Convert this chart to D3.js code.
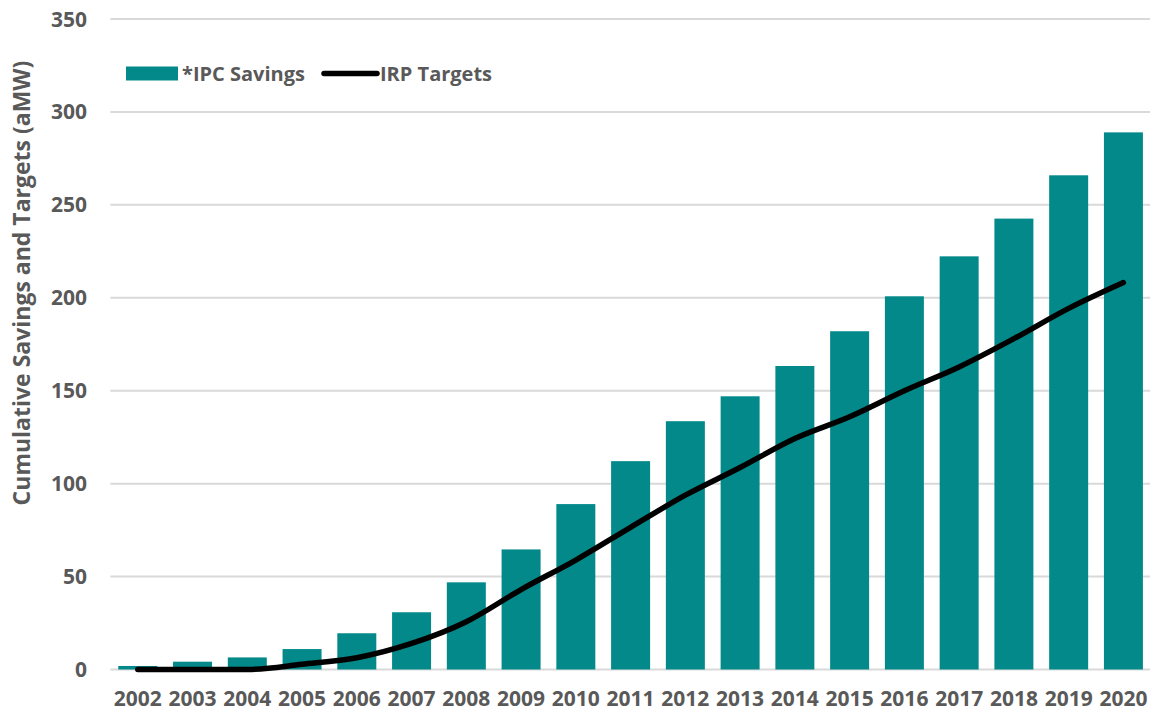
<!DOCTYPE html>
<html>
<head>
<meta charset="utf-8">
<script src="https://cdn.jsdelivr.net/npm/d3@7"></script>
<style>
  body { margin: 0; background: #fff; }
  text { font-family: "Open Sans", sans-serif; font-weight: bold; fill: #595959; }
</style>
</head>
<body>
<div id="chart"></div>
<script>
"use strict";

var years = ["2002", "2003", "2004", "2005", "2006", "2007", "2008", "2009", "2010", "2011",
             "2012", "2013", "2014", "2015", "2016", "2017", "2018", "2019", "2020"];
var ipcSavings = [1.9, 4.2, 6.5, 11, 19.5, 30.8, 46.9, 64.6, 89, 112.1,
                  133.6, 147, 163.3, 182, 200.8, 222.3, 242.6, 265.9, 289];
var irpTargets = [0, 0, 0, 2.8, 6.3, 14, 25.7, 43, 58.9, 76.5,
                  93.8, 108.7, 124.3, 136, 150, 162.8, 178, 194.3, 208.2];
var yTicks = [0, 50, 100, 150, 200, 250, 300, 350];
var seriesNames = ["*IPC Savings", "IRP Targets"];

var width = 1150, height = 712;
var plotLeft = 110.4, plotRight = 1150.8, plotTop = 19, plotBottom = 669.5;
var teal = "#03898A";

var svg = d3.select("#chart")
  .append("svg")
  .attr("width", width)
  .attr("height", height);

var x = d3.scaleBand()
  .domain(years)
  .range([plotLeft, plotRight])
  .paddingInner(0.288)
  .paddingOuter(0.144);

var y = d3.scaleLinear()
  .domain([0, 350])
  .range([plotBottom, plotTop]);

// gridlines
svg.append("g")
  .selectAll("line")
  .data(yTicks)
  .join("line")
    .attr("x1", plotLeft)
    .attr("x2", 1150)
    .attr("y1", function(d) { return y(d); })
    .attr("y2", function(d) { return y(d); })
    .attr("stroke", "#d9d9d9")
    .attr("stroke-width", 2);

// y tick labels
svg.append("g")
  .selectAll("text")
  .data(yTicks)
  .join("text")
    .attr("x", 87)
    .attr("y", function(d) { return y(d) + 7.5; })
    .attr("text-anchor", "end")
    .style("font-size", "21px")
    .text(function(d) { return d; });

// x labels
svg.append("g")
  .selectAll("text")
  .data(years)
  .join("text")
    .attr("x", function(d) { return x(d) + x.bandwidth() / 2; })
    .attr("y", 706)
    .attr("text-anchor", "middle")
    .style("font-size", "21px")
    .text(function(d) { return d; });

// bars
svg.append("g")
  .selectAll("rect")
  .data(years)
  .join("rect")
    .attr("x", function(d) { return x(d); })
    .attr("width", x.bandwidth())
    .attr("y", function(d, i) { return y(ipcSavings[i]); })
    .attr("height", function(d, i) { return y(0) - y(ipcSavings[i]); })
    .attr("fill", teal);

// target line
var line = d3.line()
  .x(function(d, i) { return x(years[i]) + x.bandwidth() / 2; })
  .y(function(d) { return y(d); })
  .curve(d3.curveMonotoneX);

svg.append("path")
  .datum(irpTargets)
  .attr("d", line)
  .attr("fill", "none")
  .attr("stroke", "#000")
  .attr("stroke-width", 5.5)
  .attr("stroke-linecap", "round")
  .attr("stroke-linejoin", "round");

// y title
svg.append("text")
  .attr("transform", "translate(30,283) rotate(-90)")
  .attr("text-anchor", "middle")
  .style("font-size", "23px")
  .text("Cumulative Savings and Targets (aMW)");

// legend
var legend = svg.append("g");
legend.append("rect")
  .attr("x", 126).attr("y", 66.5)
  .attr("width", 52).attr("height", 14)
  .attr("fill", teal);
legend.append("text")
  .attr("x", 182).attr("y", 81)
  .style("font-size", "20px")
  .text(seriesNames[0]);
legend.append("line")
  .attr("x1", 324).attr("x2", 377)
  .attr("y1", 73.5).attr("y2", 73.5)
  .attr("stroke", "#000")
  .attr("stroke-width", 5.5)
  .attr("stroke-linecap", "round");
legend.append("text")
  .attr("x", 380).attr("y", 81)
  .style("font-size", "20px")
  .text(seriesNames[1]);
</script>
</body>
</html>
